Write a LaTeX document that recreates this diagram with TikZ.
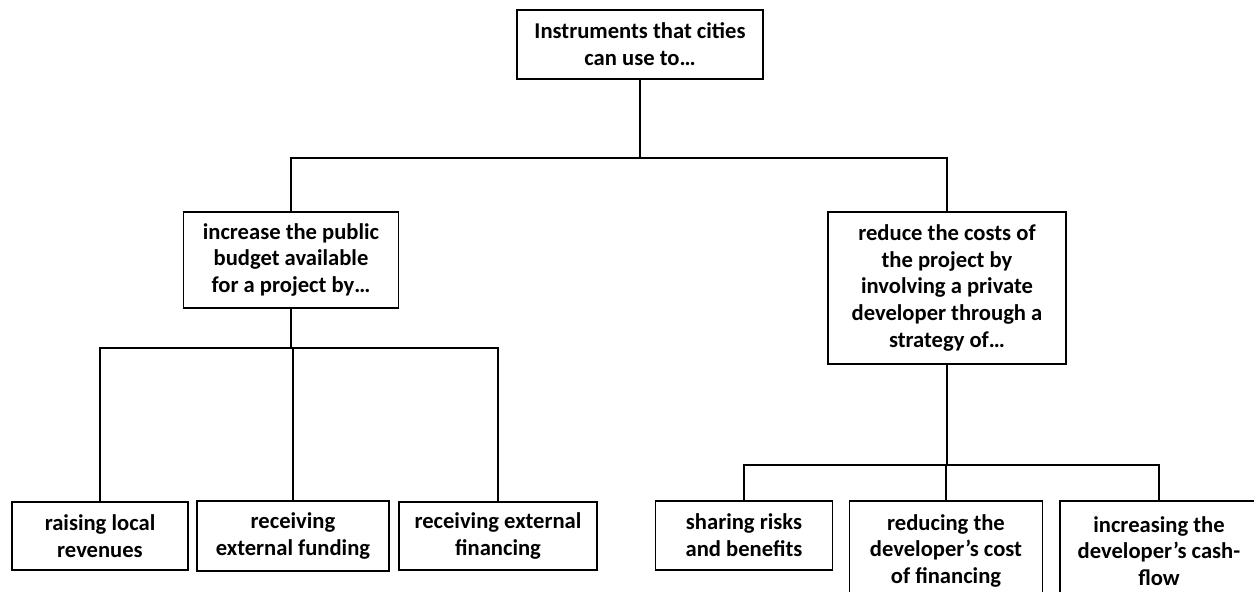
\documentclass[tikz,border=0pt]{standalone}
\usepackage{fontspec}
\setmainfont{Carlito}
\begin{document}
\begin{tikzpicture}[x=1pt,y=-1pt,
		box/.style={draw,line width=1.9pt,align=center,inner sep=0pt,anchor=north,
			font=\bfseries\fontsize{22.6}{26.8}\selectfont},
		link/.style={line width=1.7pt}]
		\useasboundingbox (0,0) rectangle (1254,592);
		\clip (0,0) rectangle (1254,592);
		\node[box,minimum width=246pt,minimum height=69pt](z) at (640,9){Instruments that cities\\can use to…};
		\node[box,minimum width=215pt,minimum height=96pt](pub) at (291,211){increase the public\\budget available\\for a project by…};
		\node[box,minimum width=238pt,minimum height=152pt](dev) at (947,211){reduce the costs of\\the project by\\involving a private\\developer through a\\strategy of…};
		\node[box,minimum width=176pt,minimum height=68pt](rev) at (100,501){raising local\\revenues};
		\node[box,minimum width=192pt,minimum height=70pt](fund) at (293,500){receiving\\external funding};
		\node[box,minimum width=198pt,minimum height=68pt](fin) at (498,501){receiving external\\financing};
		\node[box,minimum width=177pt,minimum height=69pt](risk) at (744,500){sharing risks\\and benefits};
		\node[box,minimum width=193pt,minimum height=100pt](cost) at (946,500){reducing the\\developer’s cost\\of financing};
		\node[box,minimum width=198pt,minimum height=100pt](cash) at (1159,500){increasing the\\developer’s cash-\\flow};
		\draw[link] (z.south) -- ++(0,78) coordinate (j0);
		\draw[link] (pub.north) |- (j0) -| (dev.north);
		\draw[link] (pub.south) -- ++(0,39) coordinate (j1);
		\draw[link] (rev.north) |- (j1) -| (fin.north);
		\draw[link] (fund.north) -- (fund.north |- j1);
		\draw[link] (dev.south) -- ++(0,100) coordinate (j2);
		\draw[link] (risk.north) |- (j2) -| (cash.north);
		\draw[link] (cost.north) -- (cost.north |- j2);
	\end{tikzpicture}
\end{document}
